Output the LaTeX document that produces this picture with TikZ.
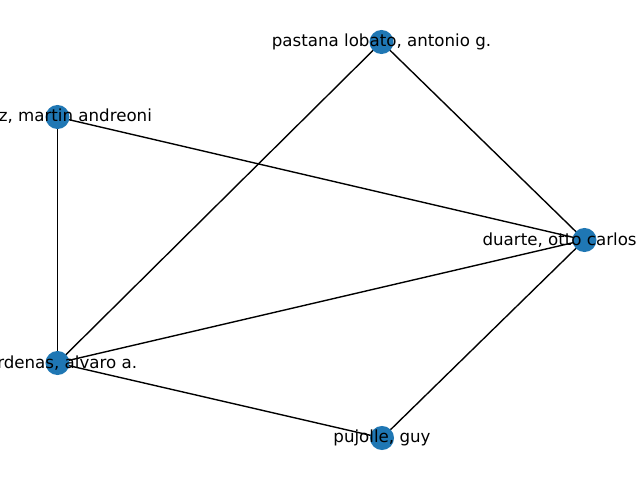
\documentclass[tikz,border=0pt]{standalone}
\usepackage{fontspec}
\setmainfont{DejaVu Sans}
\definecolor{mplblue}{HTML}{1F77B4}
\begin{document}
\begin{tikzpicture}[x=0.72pt,y=-0.72pt,
  vertex/.style={circle,fill=mplblue,draw=none,minimum size=17.3pt,inner sep=0pt},
  lbl/.style={inner sep=0pt,font=\fontsize{12pt}{14pt}\selectfont,text=black},
  edge/.style={draw=black,line width=1pt}]
\useasboundingbox (0,0) rectangle (640,480);
\clip (0,0) rectangle (640,480);
\fill[white] (0,0) rectangle (640,480);
\coordinate (pl) at (381.5,42);
\coordinate (ml) at (57.5,117);
\coordinate (ca) at (57.5,363);
\coordinate (du) at (584.5,240);
\coordinate (pu) at (382,438);
\draw[edge] (pl) -- (du);
\draw[edge] (pl) -- (ca);
\draw[edge] (ml) -- (du);
\draw[edge] (ml) -- (ca);
\draw[edge] (ca) -- (du);
\draw[edge] (ca) -- (pu);
\draw[edge] (du) -- (pu);
\node[vertex] (npl) at (pl) {};
\node[vertex] (nml) at (ml) {};
\node[vertex] (nca) at (ca) {};
\node[vertex] (ndu) at (du) {};
\node[vertex] (npu) at (pu) {};
\node[lbl] (tpl) at (pl) {pastana lobato, antonio g.};
\node[lbl] (tml) at (ml) {lopez, martin andreoni};
\node[lbl] (tca) at (ca) {cardenas, alvaro a.};
\node[lbl] (tdu) at (du) {duarte, otto carlos m. b.};
\node[lbl] (tpu) at (pu) {pujolle, guy};
\end{tikzpicture}
\end{document}
